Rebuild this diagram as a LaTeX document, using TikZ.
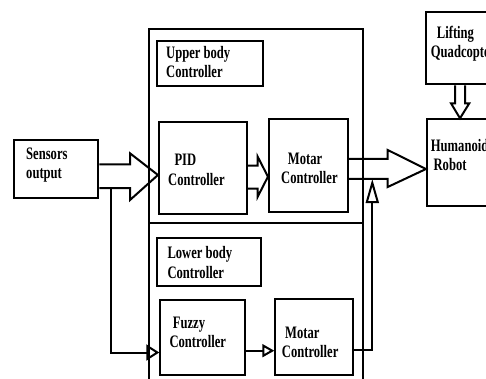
\documentclass[tikz,border=0pt]{standalone}
\usepackage{fontspec}
\setmainfont{Liberation Serif}[FakeStretch=0.72]
\usetikzlibrary{arrows.meta}

\begin{document}
\begin{tikzpicture}[x=1pt, y=-1pt,
		box_style/.style={rectangle,draw=black,line width=2pt,inner sep=0pt},
		text_style/.style={font=\bfseries\fontsize{17.5}{19.5}\selectfont,align=left,anchor=west,inner sep=0pt},
		edge_style/.style={draw=black,line width=2pt},
		hollow_style/.style={draw=black,line width=2pt,line join=miter}]

		\useasboundingbox (0,0) rectangle (486,379);
		\clip (0,0) rectangle (486,379);

		% the two controller panels
		\node[box_style, minimum width=213.7, minimum height=193.7] (up) at (255.8,125.8) {};
		\node[box_style, minimum width=213.7, minimum height=177.3] (lo) at (255.8,311.3) {};

		% blocks
		\node[box_style, minimum width=84, minimum height=57.4] (sens) at (56.3,169) {};
		\node[box_style, minimum width=105.7, minimum height=45] (uphead) at (209.8,63.8) {};
		\node[box_style, minimum width=87.7, minimum height=92] (pid) at (202.8,168) {};
		\node[box_style, minimum width=78.7, minimum height=93] (mot1) at (308.3,165.8) {};
		\node[box_style, minimum width=84.3, minimum height=72.6] (lift) at (467.8,48) {};
		\node[box_style, minimum width=83, minimum height=87] (robot) at (468.5,162.8) {};
		\node[box_style, minimum width=104.3, minimum height=47.4] (lohead) at (209.2,262) {};
		\node[box_style, minimum width=85, minimum height=74.4] (fuzzy) at (202.8,337.5) {};
		\node[box_style, minimum width=78, minimum height=75.4] (mot2) at (314.3,337) {};

		% labels
		\node[text_style] (t0) at (26,165) {Sensors\\output};
		\node[text_style] (t1) at (166,62.2) {Upper body\\Controller};
		\node[text_style] (t2) at (168,170) {\hspace{6.3pt}PID\\Controller};
		\node[text_style] (t3) at (281,168.3) {\hspace{6.7pt}Motar\\Controller};
		\node[text_style] (t4) at (430.7,43.5) {\hspace{6pt}Lifting\\Quadcopter};
		\node[text_style] (t5) at (430.7,155) {Humanoid\\\hspace{2.7pt}Robot};
		\node[text_style] (t6) at (167.3,262.5) {Lower body\\Controller};
		\node[text_style] (t7) at (169.3,332.5) {\hspace{3.4pt}Fuzzy\\Controller};
		\node[text_style] (t8) at (281.7,342.5) {\hspace{3.3pt}Motar\\Controller};

		% block arrows
		\draw[hollow_style] (sens.east |- 0,164.3) -- (130,164.3) -- (130,153.3) -- (pid.west |- 0,175)
			-- (130,200) -- (130,188) -- (sens.east |- 0,188);
		\draw[hollow_style] (pid.east |- 0,165.7) -- (257.7,165.7) -- (257.7,156.7) -- (mot1.west |- 0,176.7)
			-- (257.7,196.7) -- (257.7,188.7) -- (pid.east |- 0,188.7);
		\draw[hollow_style] (mot1.east |- 0,159) -- (387.7,159) -- (387.7,150) -- (robot.west |- 0,169)
			-- (387.7,187) -- (387.7,179) -- (mot1.east |- 0,179);
		\draw[hollow_style] (455,0 |- lift.south) -- (455,103.3) -- (451,103.3) -- (460,0 |- robot.north)
			-- (469.3,103.3) -- (465,103.3) -- (465,0 |- lift.south);

		% line arrows
		\coordinate (split) at (110.5,188);
		\draw[edge_style, -{Triangle[open,length=13pt,width=16pt]}] (split) |- (fuzzy.west |- 0,352.5);
		\draw[edge_style, -{Triangle[open,length=12pt,width=13pt]}] (fuzzy.east |- 0,350.7) -- (mot2.west |- 0,350.7);
		\draw[edge_style, -{Triangle[open,length=24pt,width=13pt]}] (mot2.east |- 0,350) -| (372.3,179);

\end{tikzpicture}
\end{document}
